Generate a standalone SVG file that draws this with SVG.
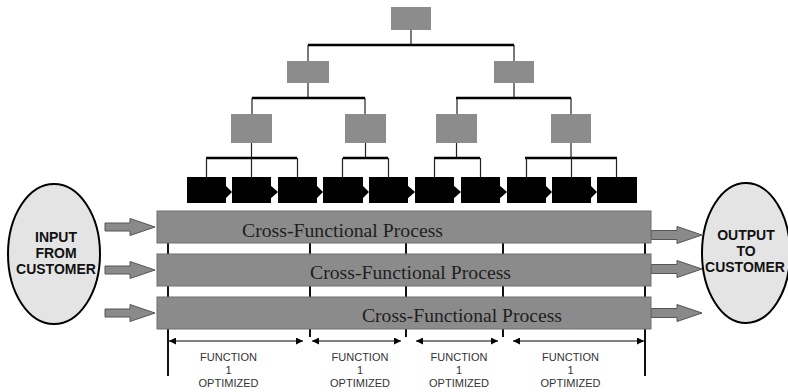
<svg xmlns="http://www.w3.org/2000/svg" width="788" height="392" viewBox="0 0 788 392">
  <defs>
    <marker id="head" viewBox="0 0 10 10" refX="10" refY="5" markerWidth="8" markerHeight="7" markerUnits="userSpaceOnUse" orient="auto-start-reverse">
      <path d="M0,0 L10,5 L0,10 Z" fill="#000"/>
    </marker>
    <style>
      .org { fill: #8c8c8c; }
      .step { fill: #000; }
      .bar { fill: #8b8b8b; stroke: #6e6e6e; stroke-width: 1; }
      .bus { stroke: #000; stroke-width: 2.5; fill: none; }
      .drop { stroke: #222; stroke-width: 1.2; fill: none; }
      .tick { stroke: #111; stroke-width: 2; fill: none; }
      .span { stroke: #000; stroke-width: 1.2; fill: none; marker-start: url(#head); marker-end: url(#head); }
      .blk { fill: #8a8a8a; stroke: #555; stroke-width: 1; }
      .ell { fill: #e4e4e4; stroke: #000; stroke-width: 2; }
      .proc { font-family: "Liberation Serif", "Times New Roman", serif; font-size: 19.5px; fill: #1e1e1e; }
      .fn { font-family: "Liberation Sans", Arial, sans-serif; font-size: 11px; fill: #333; text-anchor: middle; }
      .cust { font-family: "Liberation Sans", Arial, sans-serif; font-size: 14px; font-weight: bold; fill: #111; text-anchor: middle; }
    </style>
  </defs>
  <rect width="788" height="392" fill="#fff"/>

  <!-- hierarchy connectors -->
  <g id="connectors">
    <path class="drop" d="M411,30 V45 M308,45 V61 M514,45 V61"/>
    <path class="bus" d="M308,45 H514"/>
    <path class="drop" d="M308,83 V98 M514,83 V98 M252,98 V114 M365,98 V114 M457,98 V114 M571,98 V114"/>
    <path class="bus" d="M252,98 H365 M456,98 H571"/>
    <path class="drop" d="M251.5,143 V158 M365.5,143 V158 M456.5,143 V158 M571,143 V158"/>
    <path class="bus" d="M206,158 H297 M343,158 H388 M434,158 H480 M525,158 H617"/>
    <path class="drop" d="M206.5,158 V177 M251.5,158 V177 M297.5,158 V177 M342.5,158 V177 M388.5,158 V177 M434.5,158 V177 M480.5,158 V177 M526.5,158 V177 M571.5,158 V177 M616.5,158 V177"/>

    <!-- function boundaries -->
    <path class="tick" d="M168,243 V254 M168,286 V297 M168,329 V376
                          M310,243 V254 M310,286 V297 M310,329 V337
                          M406,243 V254 M406,286 V297 M406,329 V337
                          M503,243 V254 M503,286 V297 M503,329 V337
                          M645,243 V254 M645,286 V297 M645,329 V376"/>
    <path class="span" d="M169,341 H303"/>
    <path class="span" d="M312,341 H401"/>
    <path class="span" d="M416,341 H498"/>
    <path class="span" d="M513,341 H644"/>

    <!-- input arrows -->
    <polygon class="blk" points="105,223 130,223 130,218.5 155,227 130,235.5 130,231 105,231"/>
    <polygon class="blk" points="105,266 130,266 130,261.5 155,270 130,278.5 130,274 105,274"/>
    <polygon class="blk" points="105,309 130,309 130,304.5 155,313 130,321.5 130,317 105,317"/>
    <!-- output arrows -->
    <polygon class="blk" points="651,230.5 677,230.5 677,226.5 702,235 677,243.5 677,239.5 651,239.5"/>
    <polygon class="blk" points="651,264.5 677,264.5 677,260.5 702,269 677,277.5 677,273.5 651,273.5"/>
    <polygon class="blk" points="651,308.5 677,308.5 677,304.5 702,313 677,321.5 677,317.5 651,317.5"/>
  </g>

  <!-- management tree -->
  <g id="top"><rect class="org" x="391" y="7" width="40" height="23"/></g>
  <g id="mgr-left"><rect class="org" x="287" y="61" width="42" height="22"/></g>
  <g id="mgr-right"><rect class="org" x="494" y="61" width="40" height="22"/></g>
  <g id="dept-1"><rect class="org" x="231" y="114" width="41" height="29"/></g>
  <g id="dept-2"><rect class="org" x="345" y="114" width="41" height="29"/></g>
  <g id="dept-3"><rect class="org" x="436" y="114" width="41" height="29"/></g>
  <g id="dept-4"><rect class="org" x="551" y="114" width="40" height="29"/></g>

  <!-- process steps -->
  <g id="step-1"><rect class="step" x="187" y="177" width="39" height="26"/><polygon class="step" points="225,185 232,192 225,199"/></g>
  <g id="step-2"><rect class="step" x="232" y="177" width="39" height="26"/><polygon class="step" points="270,185 278,192 270,199"/></g>
  <g id="step-3"><rect class="step" x="278" y="177" width="39" height="26"/><polygon class="step" points="316,185 323,192 316,199"/></g>
  <g id="step-4"><rect class="step" x="323" y="177" width="40" height="26"/><polygon class="step" points="362,185 369,192 362,199"/></g>
  <g id="step-5"><rect class="step" x="369" y="177" width="39" height="26"/><polygon class="step" points="407,185 415,192 407,199"/></g>
  <g id="step-6"><rect class="step" x="415" y="177" width="39" height="26"/><polygon class="step" points="453,185 461,192 453,199"/></g>
  <g id="step-7"><rect class="step" x="461" y="177" width="39" height="26"/><polygon class="step" points="499,185 507,192 499,199"/></g>
  <g id="step-8"><rect class="step" x="507" y="177" width="39" height="26"/><polygon class="step" points="545,185 552,192 545,199"/></g>
  <g id="step-9"><rect class="step" x="552" y="177" width="39" height="26"/><polygon class="step" points="590,185 597,192 590,199"/></g>
  <g id="step-10"><rect class="step" x="597" y="177" width="40" height="26"/></g>

  <!-- cross-functional process bars -->
  <g id="process-1">
    <rect class="bar" x="157" y="211" width="494" height="32"/>
    <text class="proc" x="242" y="237" textLength="201" lengthAdjust="spacingAndGlyphs">Cross-Functional Process</text>
  </g>
  <g id="process-2">
    <rect class="bar" x="157" y="254" width="494" height="32"/>
    <text class="proc" x="310" y="279" textLength="201" lengthAdjust="spacingAndGlyphs">Cross-Functional Process</text>
  </g>
  <g id="process-3">
    <rect class="bar" x="157" y="297" width="494" height="32"/>
    <text class="proc" x="362" y="322" textLength="200" lengthAdjust="spacingAndGlyphs">Cross-Functional Process</text>
  </g>

  <!-- function labels -->
  <g id="function-1"><text class="fn" x="228.5" y="361">FUNCTION</text><text class="fn" x="228.5" y="374">1</text><text class="fn" x="228.5" y="387">OPTIMIZED</text></g>
  <g id="function-2"><text class="fn" x="360" y="361">FUNCTION</text><text class="fn" x="360" y="374">1</text><text class="fn" x="360" y="387">OPTIMIZED</text></g>
  <g id="function-3"><text class="fn" x="459" y="361">FUNCTION</text><text class="fn" x="459" y="374">1</text><text class="fn" x="459" y="387">OPTIMIZED</text></g>
  <g id="function-4"><text class="fn" x="570.5" y="361">FUNCTION</text><text class="fn" x="570.5" y="374">1</text><text class="fn" x="570.5" y="387">OPTIMIZED</text></g>

  <!-- customer ends -->
  <g id="input">
    <ellipse class="ell" cx="54" cy="254" rx="46" ry="70"/>
    <text class="cust" x="56" y="242">INPUT</text>
    <text class="cust" x="56" y="258">FROM</text>
    <text class="cust" x="56" y="274">CUSTOMER</text>
  </g>
  <g id="output">
    <ellipse class="ell" cx="746" cy="253" rx="44" ry="70"/>
    <text class="cust" x="746" y="240">OUTPUT</text>
    <text class="cust" x="746" y="256">TO</text>
    <text class="cust" x="745" y="272">CUSTOMER</text>
  </g>
</svg>
